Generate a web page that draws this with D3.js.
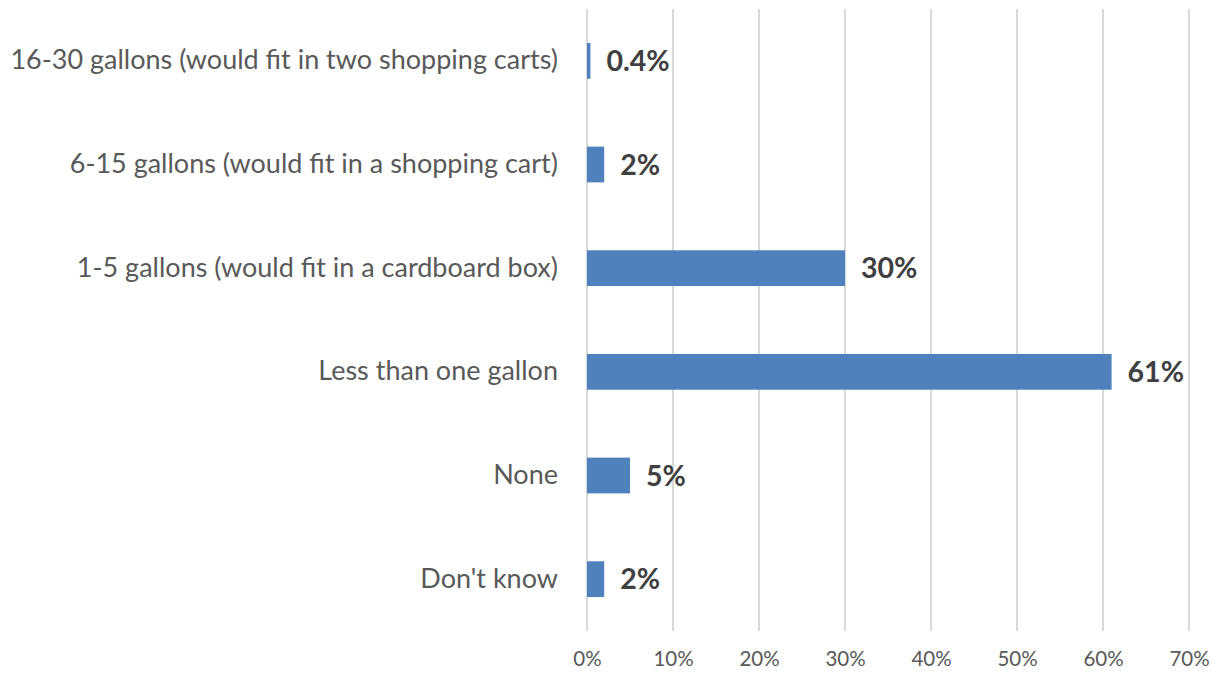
<!DOCTYPE html>
<html>
<head>
<meta charset="utf-8">
<script src="https://cdn.jsdelivr.net/npm/d3@7"></script>
<style>
  html, body { margin: 0; padding: 0; background: #ffffff; }
  svg { display: block; }
</style>
</head>
<body>
<svg id="chart" width="1212" height="673"></svg>
<script>
// Survey answers, top to bottom
const categories = [
  "16-30 gallons (would fit in two shopping carts)",
  "6-15 gallons (would fit in a shopping cart)",
  "1-5 gallons (would fit in a cardboard box)",
  "Less than one gallon",
  "None",
  "Don't know"
];
// Share of respondents, in percent
const values = [0.4, 2, 30, 61, 5, 2];
const tickValues = [0, 10, 20, 30, 40, 50, 60, 70];
const valueLabels = ["0.4%", "2%", "30%", "61%", "5%", "2%"];

const svg = d3.select("#chart");
const margin = { left: 587, right: 23, top: 9, bottom: 42 };
const W = 1212, H = 673;

const x = d3.scaleLinear().domain([0, 70]).range([margin.left, W - margin.right]);
const y = d3.scaleBand().domain(categories)
  .range([margin.top, H - margin.bottom])
  .paddingInner(0.655).paddingOuter(0.3275);

const fontFamily = "Lato, 'Open Sans', sans-serif";

// vertical gridlines
svg.append("g")
  .selectAll("line")
  .data(tickValues)
  .join("line")
  .attr("x1", d => x(d)).attr("x2", d => x(d))
  .attr("y1", margin.top).attr("y2", H - margin.bottom)
  .attr("stroke", "#d9d9d9")
  .attr("stroke-width", 2);

// x axis tick labels
const xAxis = d3.axisBottom(x).tickValues(tickValues).tickFormat(d => d + "%").tickSize(0).tickPadding(0);
const gx = svg.append("g")
  .attr("transform", `translate(0, ${H - margin.bottom + 20})`)
  .call(xAxis);
gx.select(".domain").remove();
gx.selectAll("text")
  .attr("font-family", fontFamily)
  .attr("font-size", 20.5)
  .attr("fill", "#595959")
  .attr("dy", "0.71em");

// category labels
const yAxis = d3.axisLeft(y).tickSize(0).tickPadding(29);
const gy = svg.append("g")
  .attr("transform", `translate(${margin.left}, 0)`)
  .call(yAxis);
gy.select(".domain").remove();
gy.selectAll("text")
  .attr("font-family", fontFamily)
  .attr("font-size", 27)
  .attr("fill", "#595959");

// bars
svg.append("g")
  .selectAll("rect")
  .data(values)
  .join("rect")
  .attr("x", x(0))
  .attr("y", (d, i) => y(categories[i]))
  .attr("width", d => x(d) - x(0))
  .attr("height", y.bandwidth())
  .attr("fill", "#4f81bd");

// value labels
svg.append("g")
  .selectAll("text")
  .data(values)
  .join("text")
  .attr("x", d => x(d) + 16)
  .attr("y", (d, i) => y(categories[i]) + y.bandwidth() / 2)
  .attr("dy", "0.36em")
  .attr("font-family", fontFamily)
  .attr("font-weight", "bold")
  .attr("font-size", 28.5)
  .attr("fill", "#404040")
  .text((d, i) => valueLabels[i]);
</script>
</body>
</html>
